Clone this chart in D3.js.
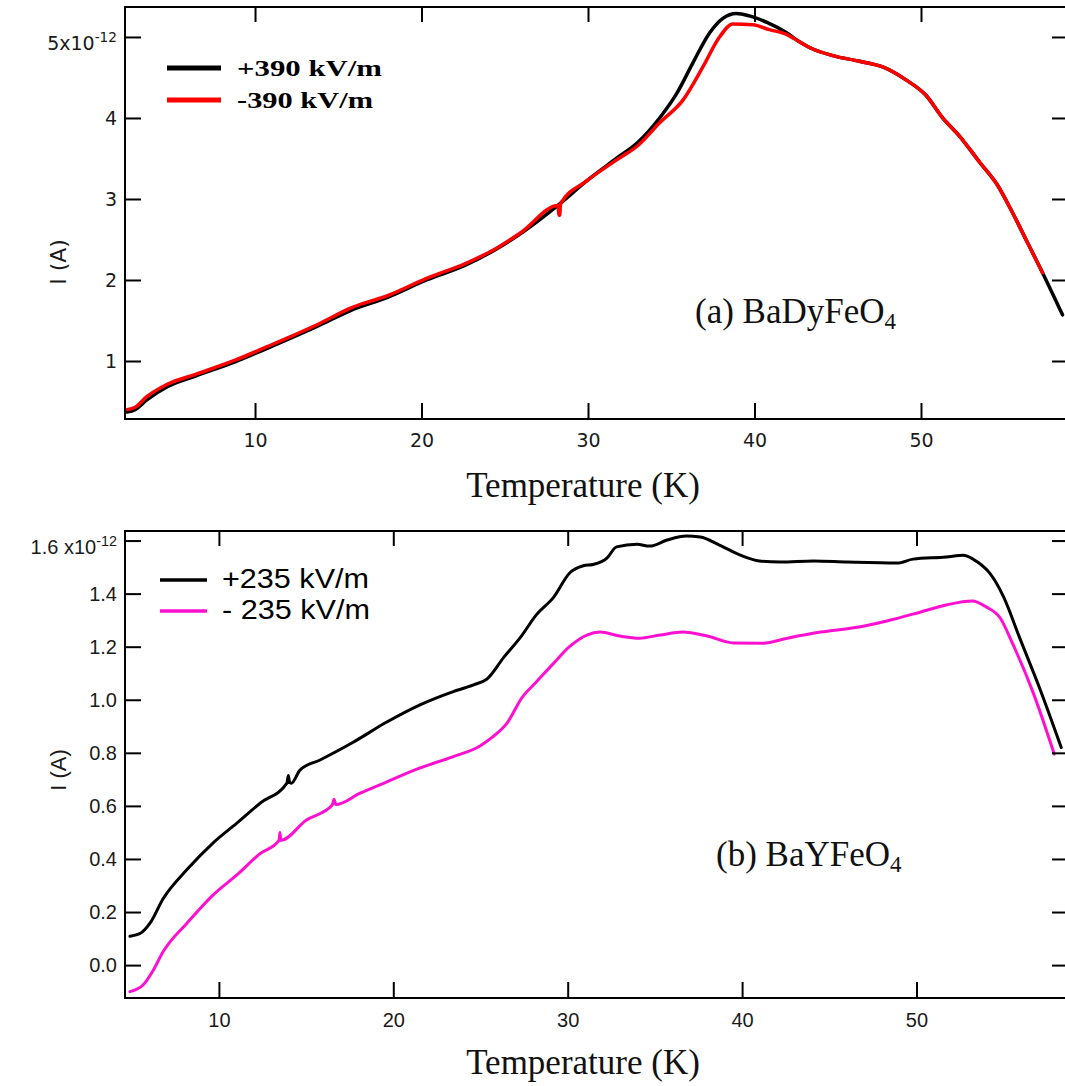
<!DOCTYPE html>
<html>
<head>
<meta charset="utf-8">
<script src="https://cdn.jsdelivr.net/npm/d3@7"></script>
<style>
  html, body { margin: 0; padding: 0; background: #fff; }
  svg { display: block; }
</style>
</head>
<body>
<svg id="chart" width="1065" height="1086"></svg>
<script>
// ---- Panel (a): BaDyFeO4, pyroelectric current vs temperature ----
const aPosT = [2.3, 2.8, 3.5, 4.7, 6.5, 8.8, 11.1, 13.85, 15.7, 18.0, 20.3, 22.6, 24.4, 26.0, 28.3, 29.9, 31.7, 33.0, 34.3, 35.35, 36.3, 37.3, 38.1, 38.9, 39.7, 40.75, 41.95, 42.7, 43.3, 44.7, 46.3, 47.7, 49.1, 50.3, 51.3, 52.3, 53.5, 54.6, 55.5, 56.4, 57.3, 58.5];
const aPosI = [0.37, 0.40, 0.52, 0.68, 0.82, 0.99, 1.19, 1.44, 1.62, 1.79, 2.00, 2.18, 2.37, 2.58, 2.94, 3.22, 3.50, 3.70, 4.00, 4.31, 4.68, 5.05, 5.23, 5.29, 5.26, 5.18, 5.05, 4.94, 4.87, 4.77, 4.70, 4.63, 4.47, 4.28, 4.00, 3.78, 3.46, 3.17, 2.83, 2.46, 2.09, 1.57];
const aNegT = [2.3, 2.8, 3.5, 4.7, 6.5, 8.8, 11.1, 13.85, 15.7, 18.0, 20.3, 22.6, 24.4, 26.0, 28.2, 28.25, 28.3, 28.35, 29.9, 31.7, 33.0, 34.3, 35.7, 36.9, 37.9, 38.7, 39.9, 40.9, 41.95, 42.7, 43.3, 44.7, 46.3, 47.7, 49.1, 50.3, 51.3, 52.3, 53.5, 54.6, 55.5, 56.4, 57.3];
const aNegI = [0.40, 0.43, 0.56, 0.71, 0.84, 1.01, 1.21, 1.46, 1.65, 1.81, 2.02, 2.20, 2.38, 2.59, 2.92, 2.80, 2.80, 2.94, 3.22, 3.48, 3.66, 3.94, 4.22, 4.63, 5.00, 5.16, 5.15, 5.09, 5.03, 4.94, 4.87, 4.77, 4.70, 4.63, 4.47, 4.28, 4.00, 3.78, 3.46, 3.17, 2.83, 2.46, 2.09];

// ---- Panel (b): BaYFeO4 ----
const bPosT = [4.9, 5.5, 6.05, 6.8, 8.17, 9.66, 11.03, 12.36, 13.9, 13.98, 14.05, 14.15, 14.65, 15.8, 17.7, 19.6, 21.5, 23.4, 24.6, 25.4, 26.3, 27.3, 28.2, 29.2, 30.1, 30.9, 31.45, 32.25, 32.8, 33.97, 34.7, 35.7, 36.8, 37.6, 38.7, 39.9, 41.0, 42.2, 44.1, 46.0, 48.9, 49.8, 51.7, 52.7, 53.5, 54.2, 55.0, 55.9, 57.1, 58.3];
const bPosI = [0.109, 0.12, 0.158, 0.25, 0.36, 0.46, 0.535, 0.61, 0.686, 0.715, 0.69, 0.685, 0.735, 0.773, 0.84, 0.915, 0.98, 1.03, 1.056, 1.08, 1.157, 1.236, 1.32, 1.387, 1.477, 1.505, 1.51, 1.534, 1.576, 1.586, 1.579, 1.602, 1.617, 1.613, 1.583, 1.545, 1.523, 1.519, 1.523, 1.519, 1.515, 1.53, 1.538, 1.545, 1.519, 1.477, 1.387, 1.236, 1.037, 0.82];
const bNegT = [4.9, 5.65, 6.23, 6.8, 8.17, 9.66, 11.03, 12.36, 13.45, 13.5, 13.55, 15.0, 16.5, 16.6, 16.7, 18.1, 19.6, 21.5, 23.4, 24.97, 25.7, 26.5, 27.4, 28.2, 29.2, 30.1, 31.1, 31.85, 33.0, 34.1, 35.3, 36.6, 38.0, 39.5, 41.2, 42.6, 44.5, 46.6, 48.3, 50.2, 51.7, 53.2, 54.0, 54.8, 55.5, 56.7, 57.9];
const bNegI = [-0.10, -0.075, -0.02, 0.05, 0.158, 0.264, 0.34, 0.42, 0.47, 0.50, 0.47, 0.546, 0.603, 0.625, 0.605, 0.648, 0.69, 0.742, 0.785, 0.826, 0.86, 0.91, 1.01, 1.067, 1.138, 1.2, 1.244, 1.255, 1.24, 1.232, 1.244, 1.255, 1.24, 1.214, 1.213, 1.232, 1.255, 1.273, 1.297, 1.33, 1.357, 1.372, 1.35, 1.308, 1.213, 1.025, 0.795];

const xTicks = [10, 20, 30, 40, 50];
const aYTicks = [1, 2, 3, 4, 5];
const bYTicks = [0.0, 0.2, 0.4, 0.6, 0.8, 1.0, 1.2, 1.4, 1.6];
const aLegend = ["+390 kV/m", "-390 kV/m"];
const bLegend = ["+235 kV/m", "- 235 kV/m"];

const svg = d3.select("#chart");
const zip = (xs, ys) => xs.map((x, i) => [x, ys[i]]);

function panel(cfg) {
  const { left, right, top, bottom } = cfg.box;
  const x = d3.scaleLinear().domain(cfg.xDomain).range([left, right]);
  const y = d3.scaleLinear().domain(cfg.yDomain).range([bottom, top]);
  const g = svg.append("g");

  g.append("clipPath").attr("id", cfg.id + "-clip")
    .append("rect").attr("x", left).attr("y", top)
    .attr("width", right - left).attr("height", bottom - top);

  const line = d3.line().x(d => x(d[0])).y(d => y(d[1])).curve(d3.curveMonotoneX);
  const plot = g.append("g").attr("clip-path", `url(#${cfg.id}-clip)`);
  cfg.series.forEach(s => {
    plot.append("path").datum(s.data)
      .attr("fill", "none").attr("stroke", s.color)
      .attr("stroke-width", s.width)
      .attr("stroke-linejoin", "round").attr("stroke-linecap", "round")
      .attr("d", line);
  });

  // frame
  g.append("rect").attr("x", left).attr("y", top)
    .attr("width", right - left).attr("height", bottom - top)
    .attr("fill", "none").attr("stroke", "#000").attr("stroke-width", 2);

  const style = (sel, font, size) => {
    sel.select(".domain").remove();
    sel.selectAll(".tick line").attr("stroke", "#000").attr("stroke-width", 2);
    sel.selectAll(".tick text").attr("fill", "#1a1a1a")
      .style("font-family", font).style("font-size", size + "px");
  };

  const xb = g.append("g").attr("transform", `translate(0,${bottom})`)
    .call(d3.axisBottom(x).tickValues(xTicks).tickSize(-16).tickPadding(cfg.xPad).tickFormat(d3.format("d")));
  style(xb, cfg.tickFont, cfg.tickSize);

  const xt = g.append("g").attr("transform", `translate(0,${top})`)
    .call(d3.axisTop(x).tickValues(xTicks).tickSize(-15).tickFormat(""));
  style(xt, cfg.tickFont, cfg.tickSize);

  const yl = g.append("g").attr("transform", `translate(${left},0)`)
    .call(d3.axisLeft(y).tickValues(cfg.yTicks).tickSize(-16).tickPadding(cfg.yPad).tickFormat(cfg.yFormat));
  style(yl, cfg.tickFont, cfg.tickSize);
  // exponent on the topmost label
  yl.selectAll(".tick text").filter(d => d === cfg.yTicks[cfg.yTicks.length - 1])
    .each(function (d) {
      const t = d3.select(this);
      t.text(null).attr("dy", "0.95em").attr("transform", "translate(0,-6)");
      t.append("tspan").text(cfg.topLabel);
      t.append("tspan").attr("dy", "-0.55em").style("font-size", (cfg.tickSize * 0.72) + "px").text("-12");
    });

  const yr = g.append("g").attr("transform", `translate(${right},0)`)
    .call(d3.axisRight(y).tickValues(cfg.yTicks).tickSize(-15).tickFormat(""));
  style(yr, cfg.tickFont, cfg.tickSize);

  // axis titles
  g.append("text").attr("x", 583).attr("y", cfg.xTitleY)
    .attr("text-anchor", "middle")
    .style("font-family", "'Liberation Serif', 'Times New Roman', serif")
    .style("font-size", "35px").attr("fill", "#111")
    .text("Temperature (K)");

  g.append("text")
    .attr("transform", `translate(${cfg.yTitleX},${cfg.yTitleY}) rotate(-90)`)
    .attr("text-anchor", "middle")
    .style("font-family", cfg.titleFont).style("font-size", "22px").attr("fill", "#1a1a1a")
    .text("I (A)");

  // sample annotation with subscript
  const ann = g.append("text").attr("x", cfg.ann.x).attr("y", cfg.ann.y)
    .style("font-family", "'Liberation Serif', 'Times New Roman', serif")
    .style("font-size", "35px").attr("fill", "#111");
  ann.append("tspan").text(cfg.ann.text);
  ann.append("tspan").attr("dy", 6).style("font-size", "23px").text("4");

  // legend
  cfg.legend.items.forEach((it, i) => {
    const ly = cfg.legend.y0 + i * cfg.legend.dy;
    g.append("line").attr("x1", cfg.legend.x1).attr("x2", cfg.legend.x2)
      .attr("y1", ly).attr("y2", ly)
      .attr("stroke", it.color).attr("stroke-width", cfg.legend.lw);
    g.append("text").attr("x", cfg.legend.tx).attr("y", ly + cfg.legend.tdy)
      .attr("textLength", it.len).attr("lengthAdjust", "spacingAndGlyphs")
      .style("font-family", cfg.legend.font).style("font-weight", cfg.legend.weight)
      .style("font-size", cfg.legend.size + "px").attr("fill", "#000")
      .text(it.label);
  });
}

panel({
  id: "a",
  box: { left: 125, right: 1067, top: 7, bottom: 419 },
  xDomain: [2.19, 58.77],
  yDomain: [0.284, 5.37],
  yTicks: aYTicks,
  yFormat: d3.format("d"),
  topLabel: "5x10",
  tickFont: "'DejaVu Sans', Verdana, sans-serif",
  tickSize: 19,
  titleFont: "'DejaVu Sans', Verdana, sans-serif",
  xPad: 15, yPad: 8,
  xTitleY: 497,
  yTitleX: 66, yTitleY: 262,
  ann: { x: 695, y: 323, text: "(a) BaDyFeO" },
  series: [
    { data: zip(aPosT, aPosI), color: "#000", width: 3.5 },
    { data: zip(aNegT, aNegI), color: "#ff0000", width: 3.5 }
  ],
  legend: {
    x1: 167, x2: 221, tx: 237, y0: 68, dy: 32, tdy: 8, lw: 5,
    font: "'Liberation Serif', 'Times New Roman', serif", weight: "bold", size: 24,
    items: [
      { label: aLegend[0], color: "#000", len: 145 },
      { label: aLegend[1], color: "#ff0000", len: 136 }
    ]
  }
});

panel({
  id: "b",
  box: { left: 125, right: 1067, top: 531, bottom: 998 },
  xDomain: [4.616, 58.63],
  yDomain: [-0.124, 1.636],
  yTicks: bYTicks,
  yFormat: d3.format(".1f"),
  topLabel: "1.6 x10",
  tickFont: "'Liberation Sans', Arial, Helvetica, sans-serif",
  tickSize: 20,
  titleFont: "'Liberation Sans', Arial, Helvetica, sans-serif",
  xPad: 15, yPad: 8,
  xTitleY: 1074,
  yTitleX: 66, yTitleY: 770,
  ann: { x: 716, y: 866, text: "(b) BaYFeO" },
  series: [
    { data: zip(bPosT, bPosI), color: "#000", width: 3 },
    { data: zip(bNegT, bNegI), color: "#ff10d0", width: 3 }
  ],
  legend: {
    x1: 160, x2: 207, tx: 222, y0: 580, dy: 31, tdy: 8, lw: 3.5,
    font: "'Liberation Sans', Arial, Helvetica, sans-serif", weight: "normal", size: 27,
    items: [
      { label: bLegend[0], color: "#000", len: 147 },
      { label: bLegend[1], color: "#ff10d0", len: 148 }
    ]
  }
});
</script>
</body>
</html>
